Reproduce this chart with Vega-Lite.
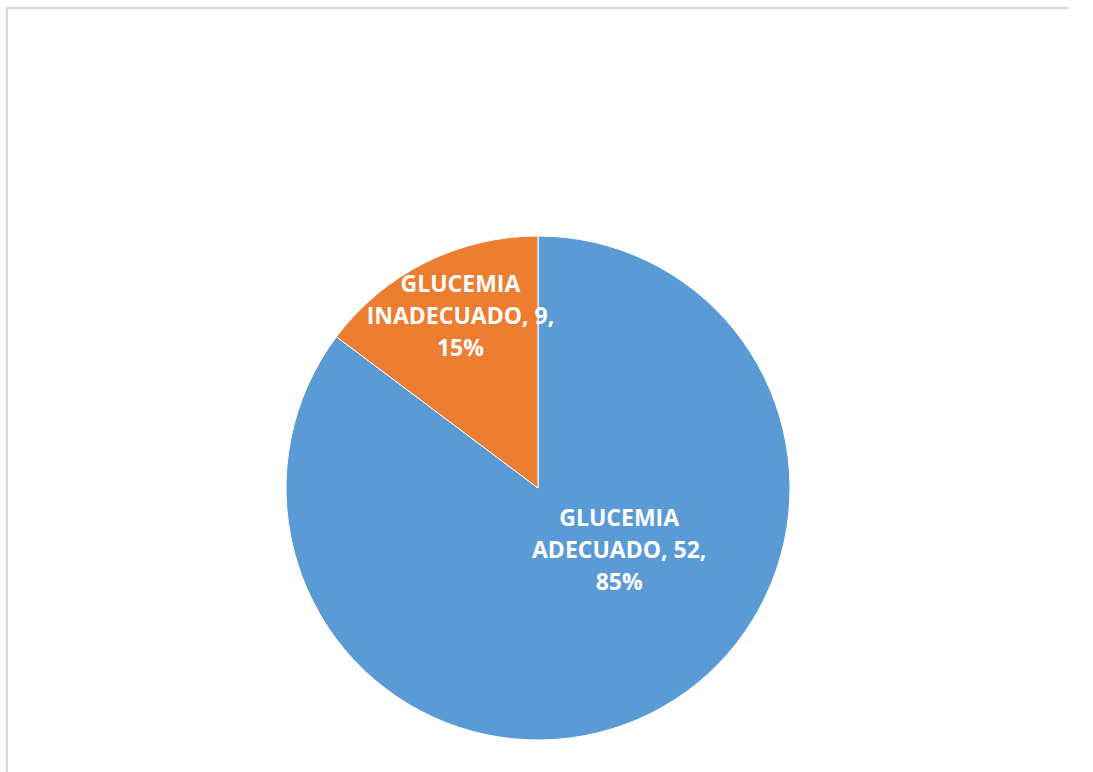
{
  "$schema": "https://vega.github.io/schema/vega-lite/v6.json",
  "autosize": "none",
  "padding": {"left": 7, "top": 8, "right": 0, "bottom": 0},
  "width": 1062,
  "height": 960,
  "background": "white",
  "view": {"stroke": "#d9d9d9", "strokeWidth": 2, "strokeDash": [1062, 960, 2100]},
  "data": {
    "values": [
      {"categoria": "GLUCEMIA ADECUADO", "valor": 52},
      {"categoria": "GLUCEMIA INADECUADO", "valor": 9}
    ]
  },
  "transform": [
    {"joinaggregate": [{"op": "sum", "field": "valor", "as": "total"}]},
    {"stack": "valor", "groupby": [], "sort": [{"field": "categoria", "order": "ascending"}], "as": ["v0", "v1"]},
    {"calculate": "(datum.v0 + datum.v1) / 2", "as": "vmid"},
    {"calculate": "split(datum.categoria, ' ')[0] + '\\n' + split(datum.categoria, ' ')[1] + ', ' + datum.valor + ',\\n' + round(datum.valor / datum.total * 100) + '%'", "as": "etiqueta"}
  ],
  "layer": [
    {
      "mark": {"type": "arc", "outerRadius": 252, "stroke": "white", "strokeWidth": 1},
      "encoding": {
        "theta": {"field": "v0", "type": "quantitative", "scale": {"domain": [0, 61]}},
        "theta2": {"field": "v1"},
        "color": {
          "field": "categoria",
          "type": "nominal",
          "scale": {"domain": ["GLUCEMIA ADECUADO", "GLUCEMIA INADECUADO"], "range": ["#5b9bd5", "#ed7d31"]},
          "legend": null
        }
      }
    },
    {
      "transform": [{"filter": "datum.categoria == 'GLUCEMIA ADECUADO'"}],
      "mark": {"type": "text", "radius": 87, "thetaOffset": -0.74, "fill": "white", "font": "Open Sans", "fontWeight": "bold", "fontSize": 23, "lineBreak": "\n", "lineHeight": 32, "align": "center", "baseline": "middle"},
      "encoding": {
        "text": {"field": "etiqueta"},
        "theta": {"field": "vmid", "type": "quantitative", "scale": {"domain": [0, 61]}}
      }
    },
    {
      "transform": [{"filter": "datum.categoria == 'GLUCEMIA INADECUADO'"}],
      "mark": {"type": "text", "radius": 217, "thetaOffset": 0.098, "fill": "white", "font": "Open Sans", "fontWeight": "bold", "fontSize": 23, "lineBreak": "\n", "lineHeight": 32, "align": "center", "baseline": "middle"},
      "encoding": {
        "text": {"field": "etiqueta"},
        "theta": {"field": "vmid", "type": "quantitative", "scale": {"domain": [0, 61]}}
      }
    }
  ]
}
